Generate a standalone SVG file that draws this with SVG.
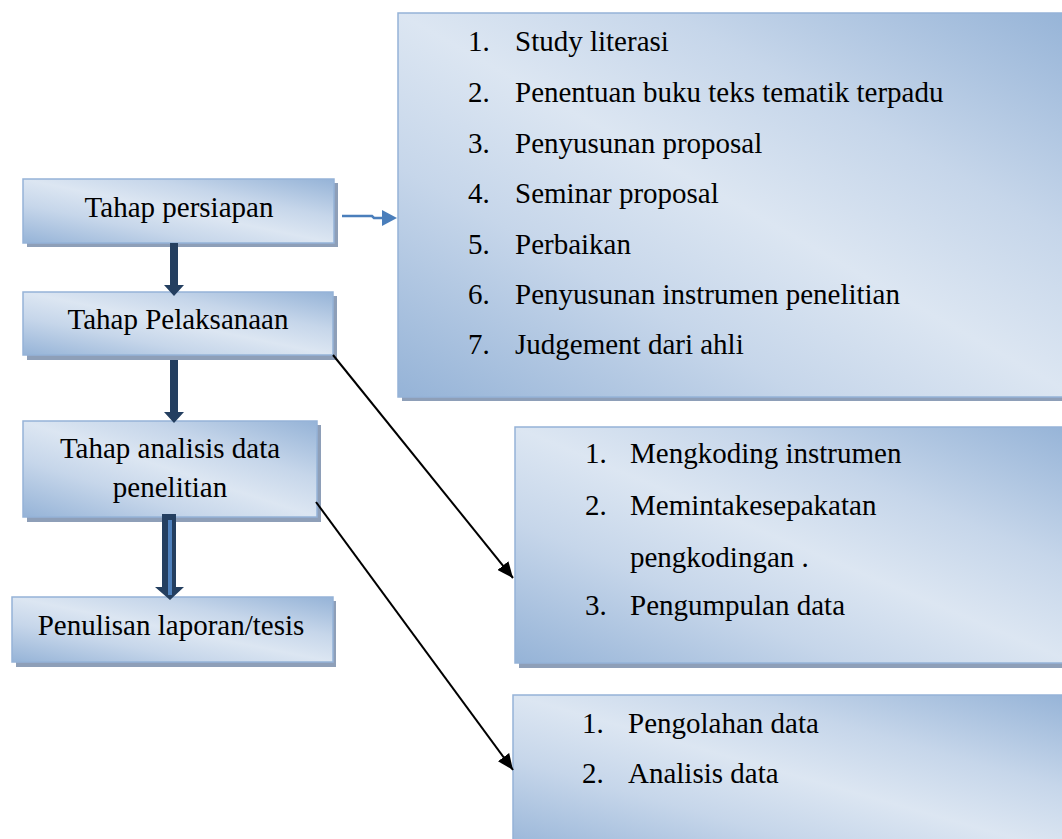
<svg xmlns="http://www.w3.org/2000/svg" width="1062" height="839" viewBox="0 0 1062 839">
<defs>
<linearGradient id="g" x1="0" y1="1" x2="1" y2="0">
<stop offset="0" stop-color="#95b3d7"/>
<stop offset="0.3" stop-color="#c6d6ea"/>
<stop offset="0.5" stop-color="#dce6f2"/>
<stop offset="0.7" stop-color="#c6d6ea"/>
<stop offset="1" stop-color="#95b3d7"/>
</linearGradient>
<marker id="ah" viewBox="0 0 16 14" refX="16" refY="7" markerWidth="16" markerHeight="14" orient="auto" markerUnits="userSpaceOnUse">
<path d="M0,0 L16,7 L0,14 z" fill="#000"/>
</marker>
</defs>
<style>
.box{fill:url(#g);stroke:#95b3d7;stroke-width:1.5}
.sh{fill:#8e9fb8}
.t{font-family:"Liberation Serif","Times New Roman",serif;font-size:29px;fill:#000}
.c{text-anchor:middle}
.dark{fill:#243f60}
.ln{stroke:#000;stroke-width:2;fill:none}
</style>
<rect width="1062" height="839" fill="#fff"/>

<g id="n-persiapan">
<rect class="sh" x="27" y="183" width="311" height="64"/>
<rect class="box" x="23" y="179" width="311" height="64"/>
<text class="t c" x="179" y="217">Tahap persiapan</text>
</g>

<g id="n-pelaksanaan">
<rect class="sh" x="27" y="296" width="310" height="64"/>
<rect class="box" x="23" y="292" width="310" height="63"/>
<text class="t c" x="178" y="329">Tahap Pelaksanaan</text>
</g>

<g id="n-analisis">
<rect class="sh" x="27" y="425" width="294" height="97"/>
<rect class="box" x="23" y="421" width="294" height="96"/>
<text class="t c" x="170" y="458">Tahap analisis data</text>
<text class="t c" x="170" y="497">penelitian</text>
</g>

<g id="n-penulisan">
<rect class="sh" x="16" y="601" width="320" height="66"/>
<rect class="box" x="12" y="597" width="321" height="65"/>
<text class="t c" x="171" y="635">Penulisan laporan/tesis</text>
</g>

<g id="n-list1">
<rect class="sh" x="402" y="17" width="680" height="384"/>
<rect class="box" x="398" y="13" width="680" height="384"/>
<text class="t" x="468" y="51">1.</text><text class="t" x="515" y="51">Study literasi</text>
<text class="t" x="468" y="102">2.</text><text class="t" x="515" y="102">Penentuan buku teks tematik terpadu</text>
<text class="t" x="468" y="153">3.</text><text class="t" x="515" y="153">Penyusunan proposal</text>
<text class="t" x="468" y="203">4.</text><text class="t" x="515" y="203">Seminar proposal</text>
<text class="t" x="468" y="254">5.</text><text class="t" x="515" y="254">Perbaikan</text>
<text class="t" x="468" y="304">6.</text><text class="t" x="515" y="304">Penyusunan instrumen penelitian</text>
<text class="t" x="468" y="354">7.</text><text class="t" x="515" y="354">Judgement dari ahli</text>
</g>

<g id="n-list2">
<rect class="sh" x="519" y="431" width="560" height="237"/>
<rect class="box" x="515" y="427" width="560" height="236"/>
<text class="t" x="585" y="463">1.</text><text class="t" x="630" y="463">Mengkoding instrumen</text>
<text class="t" x="585" y="515">2.</text><text class="t" x="630" y="515">Memintakesepakatan</text>
<text class="t" x="630" y="567">pengkodingan .</text>
<text class="t" x="585" y="615">3.</text><text class="t" x="630" y="615">Pengumpulan data</text>
</g>

<g id="n-list3">
<rect class="sh" x="517" y="699" width="560" height="160"/>
<rect class="box" x="513" y="695" width="560" height="160"/>
<text class="t" x="582" y="733">1.</text><text class="t" x="628" y="733">Pengolahan data</text>
<text class="t" x="582" y="783">2.</text><text class="t" x="628" y="783">Analisis data</text>
</g>

<g id="connectors">
<path d="M342,216 L372,216 L374,218 L383,218" stroke="#4a7ebb" stroke-width="2.5" fill="none"/>
<path d="M382,210 L397,218 L382,226 z" fill="#4a7ebb"/>
<path class="dark" d="M170,243 L178,243 L178,285 L184,285 L174,296 L164,285 L170,285 z"/>
<path class="dark" d="M170,360 L178,360 L178,412 L184,412 L174,423 L164,412 L170,412 z"/>
<path class="dark" d="M162,514 L176,514 L176,587 L184,587 L170,600 L155,587 L162,587 z"/>
<rect x="168" y="520" width="4" height="75" fill="#4f81bd"/>
<line class="ln" x1="333" y1="355" x2="513" y2="578" marker-end="url(#ah)"/>
<line class="ln" x1="316" y1="502" x2="513" y2="770" marker-end="url(#ah)"/>
</g>
</svg>
